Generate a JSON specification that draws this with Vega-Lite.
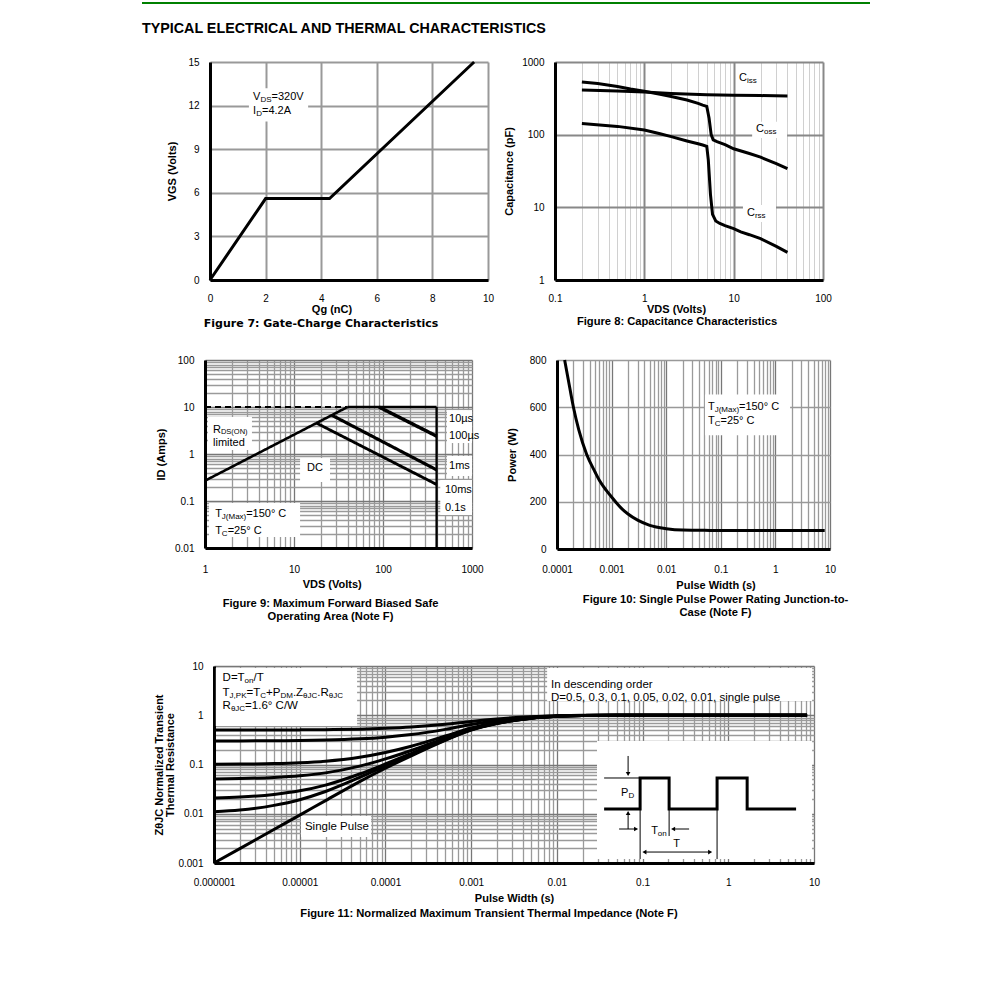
{
  "$schema": "https://vega.github.io/schema/vega-lite/v6.json",
  "padding": {"left": 142, "top": 0, "right": 5, "bottom": 5},
  "config": {
    "view": {"stroke": null},
    "font": "Liberation Sans",
    "axis": {
      "grid": true,
      "labelFont": "Liberation Sans", "labelFontSize": 10, "labelColor": "#000",
      "titleFont": "Liberation Sans", "titleFontSize": 11, "titleFontWeight": "bold", "titleColor": "#000",
      "ticks": false, "tickSize": 0,
      "domainColor": "#000", "domainWidth": 3,
      "gridColor": "#999", "gridWidth": 1.5, "gridOpacity": 1,
      "labelFlush": false, "labelOverlap": false
    },
    "axisX": {"labelPadding": 13, "titlePadding": 0},
    "axisY": {"labelPadding": 11, "titlePadding": 10},
    "title": {"font": "Liberation Sans", "fontSize": 11.2, "fontWeight": "bold", "color": "#000", "lineHeight": 13},
    "text": {"font": "Liberation Sans", "fontSize": 11, "color": "#000", "align": "left", "baseline": "middle"}
  },
  "datasets": {
    "gc": [
      {"qg": 0, "vgs": 0}, {"qg": 2, "vgs": 5.6}, {"qg": 4.3, "vgs": 5.6}, {"qg": 9.5, "vgs": 15}
    ],
    "cap": [
      {"c": "Ciss", "v": 0.2, "pf": 412}, {"c": "Ciss", "v": 0.5, "pf": 400}, {"c": "Ciss", "v": 1, "pf": 385}, {"c": "Ciss", "v": 2, "pf": 368}, {"c": "Ciss", "v": 5, "pf": 355}, {"c": "Ciss", "v": 10, "pf": 350}, {"c": "Ciss", "v": 20, "pf": 345}, {"c": "Ciss", "v": 40, "pf": 340},
      {"c": "Coss", "v": 0.2, "pf": 531}, {"c": "Coss", "v": 0.3, "pf": 505}, {"c": "Coss", "v": 0.5, "pf": 460}, {"c": "Coss", "v": 0.7, "pf": 425}, {"c": "Coss", "v": 1, "pf": 395}, {"c": "Coss", "v": 1.5, "pf": 360}, {"c": "Coss", "v": 2, "pf": 335}, {"c": "Coss", "v": 3, "pf": 300}, {"c": "Coss", "v": 4, "pf": 270}, {"c": "Coss", "v": 4.5, "pf": 255}, {"c": "Coss", "v": 5, "pf": 245}, {"c": "Coss", "v": 5.3, "pf": 170}, {"c": "Coss", "v": 5.6, "pf": 100}, {"c": "Coss", "v": 5.9, "pf": 85}, {"c": "Coss", "v": 6.5, "pf": 80}, {"c": "Coss", "v": 8, "pf": 73}, {"c": "Coss", "v": 10, "pf": 64}, {"c": "Coss", "v": 15, "pf": 55}, {"c": "Coss", "v": 20, "pf": 49}, {"c": "Coss", "v": 30, "pf": 40}, {"c": "Coss", "v": 40, "pf": 34},
      {"c": "Crss", "v": 0.2, "pf": 142}, {"c": "Crss", "v": 0.5, "pf": 130}, {"c": "Crss", "v": 1, "pf": 116}, {"c": "Crss", "v": 1.5, "pf": 103}, {"c": "Crss", "v": 2, "pf": 94}, {"c": "Crss", "v": 3, "pf": 82}, {"c": "Crss", "v": 4, "pf": 75}, {"c": "Crss", "v": 4.5, "pf": 72}, {"c": "Crss", "v": 5, "pf": 69}, {"c": "Crss", "v": 5.2, "pf": 45}, {"c": "Crss", "v": 5.5, "pf": 15}, {"c": "Crss", "v": 5.8, "pf": 8}, {"c": "Crss", "v": 6.3, "pf": 6.5}, {"c": "Crss", "v": 7, "pf": 6}, {"c": "Crss", "v": 8, "pf": 5.6}, {"c": "Crss", "v": 10, "pf": 5.1}, {"c": "Crss", "v": 12, "pf": 4.6}, {"c": "Crss", "v": 15, "pf": 4.2}, {"c": "Crss", "v": 20, "pf": 3.7}, {"c": "Crss", "v": 30, "pf": 2.9}, {"c": "Crss", "v": 40, "pf": 2.4}
    ],
    "soa": [
      {"s": "dash", "i": 0, "v": 1, "a": 10}, {"s": "dash", "i": 1, "v": 40, "a": 10},
      {"s": "limit", "i": 0, "v": 40, "a": 10}, {"s": "limit", "i": 1, "v": 400, "a": 10}, {"s": "limit", "i": 2, "v": 400, "a": 0.01},
      {"s": "rds", "i": 0, "v": 1, "a": 0.27}, {"s": "rds", "i": 1, "v": 40, "a": 10},
      {"s": "dc", "i": 0, "v": 17.7, "a": 4.6}, {"s": "dc", "i": 1, "v": 400, "a": 0.225},
      {"s": "1ms", "i": 0, "v": 26.6, "a": 6.7}, {"s": "1ms", "i": 1, "v": 400, "a": 0.46},
      {"s": "10us", "i": 0, "v": 90, "a": 10}, {"s": "10us", "i": 1, "v": 400, "a": 2.4}
    ],
    "pwr": [
      {"t": 0.000138, "p": 800}, {"t": 0.00016, "p": 720}, {"t": 0.0002, "p": 600}, {"t": 0.00025, "p": 505}, {"t": 0.00035, "p": 400}, {"t": 0.0005, "p": 325}, {"t": 0.0006, "p": 290}, {"t": 0.0008, "p": 248}, {"t": 0.001, "p": 220}, {"t": 0.0012, "p": 198}, {"t": 0.0015, "p": 173}, {"t": 0.002, "p": 148}, {"t": 0.003, "p": 122}, {"t": 0.005, "p": 100}, {"t": 0.01, "p": 86}, {"t": 0.02, "p": 80}, {"t": 0.05, "p": 79}, {"t": 0.1, "p": 78}, {"t": 1, "p": 78}, {"t": 8, "p": 78}
    ],
    "zth": [
      {"d": "0.5", "t": 1e-6, "z": 0.5005}, {"d": "0.5", "t": 2e-6, "z": 0.501}, {"d": "0.5", "t": 5e-6, "z": 0.5024}, {"d": "0.5", "t": 1e-5, "z": 0.5047}, {"d": "0.5", "t": 2e-5, "z": 0.5093}, {"d": "0.5", "t": 5e-5, "z": 0.5225}, {"d": "0.5", "t": 1e-4, "z": 0.542}, {"d": "0.5", "t": 2e-4, "z": 0.575}, {"d": "0.5", "t": 5e-4, "z": 0.655}, {"d": "0.5", "t": 1e-3, "z": 0.75}, {"d": "0.5", "t": 2e-3, "z": 0.84}, {"d": "0.5", "t": 5e-3, "z": 0.935}, {"d": "0.5", "t": 0.01, "z": 0.975}, {"d": "0.5", "t": 0.02, "z": 0.995}, {"d": "0.5", "t": 0.05, "z": 1}, {"d": "0.5", "t": 0.1, "z": 1}, {"d": "0.5", "t": 1, "z": 1}, {"d": "0.5", "t": 8.3, "z": 1},
      {"d": "0.3", "t": 1e-6, "z": 0.3007}, {"d": "0.3", "t": 2e-6, "z": 0.3014}, {"d": "0.3", "t": 5e-6, "z": 0.3034}, {"d": "0.3", "t": 1e-5, "z": 0.3066}, {"d": "0.3", "t": 2e-5, "z": 0.313}, {"d": "0.3", "t": 5e-5, "z": 0.3315}, {"d": "0.3", "t": 1e-4, "z": 0.3588}, {"d": "0.3", "t": 2e-4, "z": 0.405}, {"d": "0.3", "t": 5e-4, "z": 0.517}, {"d": "0.3", "t": 1e-3, "z": 0.65}, {"d": "0.3", "t": 2e-3, "z": 0.776}, {"d": "0.3", "t": 5e-3, "z": 0.909}, {"d": "0.3", "t": 0.01, "z": 0.965}, {"d": "0.3", "t": 0.02, "z": 0.993}, {"d": "0.3", "t": 0.05, "z": 1}, {"d": "0.3", "t": 0.1, "z": 1}, {"d": "0.3", "t": 1, "z": 1}, {"d": "0.3", "t": 8.3, "z": 1},
      {"d": "0.1", "t": 1e-6, "z": 0.1009}, {"d": "0.1", "t": 2e-6, "z": 0.1018}, {"d": "0.1", "t": 5e-6, "z": 0.1043}, {"d": "0.1", "t": 1e-5, "z": 0.1085}, {"d": "0.1", "t": 2e-5, "z": 0.1167}, {"d": "0.1", "t": 5e-5, "z": 0.1405}, {"d": "0.1", "t": 1e-4, "z": 0.1756}, {"d": "0.1", "t": 2e-4, "z": 0.235}, {"d": "0.1", "t": 5e-4, "z": 0.379}, {"d": "0.1", "t": 1e-3, "z": 0.55}, {"d": "0.1", "t": 2e-3, "z": 0.712}, {"d": "0.1", "t": 5e-3, "z": 0.883}, {"d": "0.1", "t": 0.01, "z": 0.955}, {"d": "0.1", "t": 0.02, "z": 0.991}, {"d": "0.1", "t": 0.05, "z": 1}, {"d": "0.1", "t": 0.1, "z": 1}, {"d": "0.1", "t": 1, "z": 1}, {"d": "0.1", "t": 8.3, "z": 1},
      {"d": "0.05", "t": 1e-6, "z": 0.051}, {"d": "0.05", "t": 2e-6, "z": 0.0519}, {"d": "0.05", "t": 5e-6, "z": 0.0546}, {"d": "0.05", "t": 1e-5, "z": 0.0589}, {"d": "0.05", "t": 2e-5, "z": 0.0676}, {"d": "0.05", "t": 5e-5, "z": 0.0928}, {"d": "0.05", "t": 1e-4, "z": 0.1298}, {"d": "0.05", "t": 2e-4, "z": 0.1925}, {"d": "0.05", "t": 5e-4, "z": 0.3445}, {"d": "0.05", "t": 1e-3, "z": 0.525}, {"d": "0.05", "t": 2e-3, "z": 0.696}, {"d": "0.05", "t": 5e-3, "z": 0.8765}, {"d": "0.05", "t": 0.01, "z": 0.9525}, {"d": "0.05", "t": 0.02, "z": 0.9905}, {"d": "0.05", "t": 0.05, "z": 1}, {"d": "0.05", "t": 0.1, "z": 1}, {"d": "0.05", "t": 1, "z": 1}, {"d": "0.05", "t": 8.3, "z": 1},
      {"d": "0.02", "t": 1e-6, "z": 0.021}, {"d": "0.02", "t": 2e-6, "z": 0.0219}, {"d": "0.02", "t": 5e-6, "z": 0.0247}, {"d": "0.02", "t": 1e-5, "z": 0.0292}, {"d": "0.02", "t": 2e-5, "z": 0.0381}, {"d": "0.02", "t": 5e-5, "z": 0.0641}, {"d": "0.02", "t": 1e-4, "z": 0.1023}, {"d": "0.02", "t": 2e-4, "z": 0.167}, {"d": "0.02", "t": 5e-4, "z": 0.3238}, {"d": "0.02", "t": 1e-3, "z": 0.51}, {"d": "0.02", "t": 2e-3, "z": 0.6864}, {"d": "0.02", "t": 5e-3, "z": 0.8726}, {"d": "0.02", "t": 0.01, "z": 0.951}, {"d": "0.02", "t": 0.02, "z": 0.9902}, {"d": "0.02", "t": 0.05, "z": 1}, {"d": "0.02", "t": 0.1, "z": 1}, {"d": "0.02", "t": 1, "z": 1}, {"d": "0.02", "t": 8.3, "z": 1},
      {"d": "0.01", "t": 1e-6, "z": 0.011}, {"d": "0.01", "t": 2e-6, "z": 0.0119}, {"d": "0.01", "t": 5e-6, "z": 0.0148}, {"d": "0.01", "t": 1e-5, "z": 0.0193}, {"d": "0.01", "t": 2e-5, "z": 0.0283}, {"d": "0.01", "t": 5e-5, "z": 0.0546}, {"d": "0.01", "t": 1e-4, "z": 0.0932}, {"d": "0.01", "t": 2e-4, "z": 0.1585}, {"d": "0.01", "t": 5e-4, "z": 0.3169}, {"d": "0.01", "t": 1e-3, "z": 0.505}, {"d": "0.01", "t": 2e-3, "z": 0.6832}, {"d": "0.01", "t": 5e-3, "z": 0.8713}, {"d": "0.01", "t": 0.01, "z": 0.9505}, {"d": "0.01", "t": 0.02, "z": 0.9901}, {"d": "0.01", "t": 0.05, "z": 1}, {"d": "0.01", "t": 0.1, "z": 1}, {"d": "0.01", "t": 1, "z": 1}, {"d": "0.01", "t": 8.3, "z": 1},
      {"d": "single", "t": 1e-6, "z": 0.001}, {"d": "single", "t": 2e-6, "z": 0.00196}, {"d": "single", "t": 5e-6, "z": 0.0048}, {"d": "single", "t": 1e-5, "z": 0.0094}, {"d": "single", "t": 2e-5, "z": 0.0185}, {"d": "single", "t": 5e-5, "z": 0.045}, {"d": "single", "t": 1e-4, "z": 0.084}, {"d": "single", "t": 2e-4, "z": 0.15}, {"d": "single", "t": 5e-4, "z": 0.31}, {"d": "single", "t": 1e-3, "z": 0.5}, {"d": "single", "t": 2e-3, "z": 0.68}, {"d": "single", "t": 5e-3, "z": 0.87}, {"d": "single", "t": 0.01, "z": 0.95}, {"d": "single", "t": 0.02, "z": 0.99}, {"d": "single", "t": 0.05, "z": 1}, {"d": "single", "t": 0.1, "z": 1}, {"d": "single", "t": 1, "z": 1}, {"d": "single", "t": 8.3, "z": 1}
    ],
    "pulse": [
      {"i": 0, "t": 0.0356, "z": 0.01248}, {"i": 1, "t": 0.0936, "z": 0.01248}, {"i": 2, "t": 0.0936, "z": 0.0532}, {"i": 3, "t": 0.204, "z": 0.0532}, {"i": 4, "t": 0.204, "z": 0.01248}, {"i": 5, "t": 0.74, "z": 0.01248}, {"i": 6, "t": 0.74, "z": 0.0532}, {"i": 7, "t": 1.66, "z": 0.0532}, {"i": 8, "t": 1.66, "z": 0.01248}, {"i": 9, "t": 6.18, "z": 0.01248}
    ],
    "insetLines": [
      {"x1": 0.0356, "x2": 0.0936, "y1": 0.0532, "y2": 0.0532},
      {"x1": 0.0678, "x2": 0.0678, "y1": 0.149, "y2": 0.0641},
      {"x1": 0.0678, "x2": 0.0678, "y1": 0.0049, "y2": 0.01035},
      {"x1": 0.0936, "x2": 0.0936, "y1": 0.01248, "y2": 0.0012},
      {"x1": 0.204, "x2": 0.204, "y1": 0.01248, "y2": 0.00353},
      {"x1": 0.74, "x2": 0.74, "y1": 0.01248, "y2": 0.0012},
      {"x1": 0.0532, "x2": 0.084, "y1": 0.0049, "y2": 0.0049},
      {"x1": 0.349, "x2": 0.227, "y1": 0.0049, "y2": 0.0049},
      {"x1": 0.105, "x2": 0.614, "y1": 0.00167, "y2": 0.00167}
    ],
    "arrows": [
      {"x": 0.0678, "y": 0.0641, "dir": "down"},
      {"x": 0.0678, "y": 0.01035, "dir": "up"},
      {"x": 0.084, "y": 0.0049, "dir": "right"},
      {"x": 0.227, "y": 0.0049, "dir": "left"},
      {"x": 0.105, "y": 0.00167, "dir": "left"},
      {"x": 0.614, "y": 0.00167, "dir": "right"}
    ]
  },
  "spacing": 19,
  "vconcat": [
    {
      "width": 728, "height": 2,
      "view": {"fill": "#008000", "stroke": null},
      "title": {"text": "TYPICAL ELECTRICAL AND THERMAL CHARACTERISTICS", "orient": "bottom", "anchor": "start", "font": "Liberation Sans", "fontSize": 14.3, "fontWeight": "bold", "color": "#000", "offset": 16},
      "data": {"values": [{}]},
      "mark": {"type": "point", "opacity": 0}
    },
    {
      "spacing": 38,
      "vconcat": [
        {
          "spacing": 25,
          "vconcat": [
            {
              "spacing": 0,
              "hconcat": [
                {"width": 13, "height": 1, "data": {"values": [{}]}, "mark": {"type": "point", "opacity": 0}},
                {
                  "spacing": 9,
                  "hconcat": [
                    {
                      "width": 278, "height": 218,
                      "title": {"text": "Figure 7: Gate-Charge Characteristics", "orient": "bottom", "offset": 4, "dx": -28, "font": "DejaVu Sans", "fontSize": 11},
                      "layer": [
                        {"data": {"values": [{}]}, "mark": {"type": "rect", "color": "white"},
                         "encoding": {"x": {"datum": 1.4}, "x2": {"datum": 3.53}, "y": {"datum": 13.2}, "y2": {"datum": 10.9}}},
                        {"data": {"name": "gc"}, "mark": {"type": "line", "color": "black", "strokeWidth": 3},
                         "encoding": {
                           "x": {"field": "qg", "type": "quantitative", "scale": {"domain": [0, 10], "nice": false},
                                 "axis": {"grid": true, "title": "Qg (nC)", "values": [0, 2, 4, 6, 8, 10], "gridColor": "#999", "gridWidth": 2, "titleX": 121.5}},
                           "y": {"field": "vgs", "type": "quantitative", "scale": {"domain": [0, 15], "nice": false},
                                 "axis": {"grid": true, "title": ["", "VGS (Volts)"], "titleLineHeight": 11, "values": [0, 3, 6, 9, 12, 15], "gridColor": "#999", "gridWidth": 2}}
                         }},
                        {"data": {"values": [{}]}, "mark": {"type": "text"}, "encoding": {"x": {"datum": 1.55}, "y": {"datum": 12.59}, "text": {"value": "V"}}},
                        {"data": {"values": [{}]}, "mark": {"type": "text", "fontSize": 8, "dx": 7.3, "dy": 3}, "encoding": {"x": {"datum": 1.55}, "y": {"datum": 12.59}, "text": {"value": "DS"}}},
                        {"data": {"values": [{}]}, "mark": {"type": "text", "dx": 18.4}, "encoding": {"x": {"datum": 1.55}, "y": {"datum": 12.59}, "text": {"value": "=320V"}}},
                        {"data": {"values": [{}]}, "mark": {"type": "text"}, "encoding": {"x": {"datum": 1.55}, "y": {"datum": 11.63}, "text": {"value": "I"}}},
                        {"data": {"values": [{}]}, "mark": {"type": "text", "fontSize": 8, "dx": 3.1, "dy": 3}, "encoding": {"x": {"datum": 1.55}, "y": {"datum": 11.63}, "text": {"value": "D"}}},
                        {"data": {"values": [{}]}, "mark": {"type": "text", "dx": 8.9}, "encoding": {"x": {"datum": 1.55}, "y": {"datum": 11.63}, "text": {"value": "=4.2A"}}}
                      ]
                    },
                    {
                      "width": 268, "height": 218,
                      "title": {"text": "Figure 8: Capacitance Characteristics", "orient": "bottom", "offset": 2, "dx": -12},
                      "layer": [
                        {"data": {"values": [{}]}, "mark": {"type": "rect", "color": "white"},
                         "encoding": {"x": {"datum": 16.1}, "x2": {"datum": 39.6}, "y": {"datum": 90}, "y2": {"datum": 150}}},
                        {"data": {"values": [{}]}, "mark": {"type": "rect", "color": "white"},
                         "encoding": {"x": {"datum": 12.7}, "x2": {"datum": 29.8}, "y": {"datum": 6.3}, "y2": {"datum": 10.8}}},
                        {"data": {"name": "cap"}, "mark": {"type": "line", "color": "black", "strokeWidth": 3},
                         "encoding": {
                           "x": {"field": "v", "type": "quantitative", "scale": {"type": "log", "domain": [0.1, 100], "nice": false},
                                 "axis": {"grid": true, "title": "VDS (Volts)", "titleX": 121,
                                          "values": [0.1, 0.2, 0.3, 0.4, 0.5, 0.6, 0.7, 0.8, 0.9, 1, 2, 3, 4, 5, 6, 7, 8, 9, 10, 20, 30, 40, 50, 60, 70, 80, 90, 100],
                                          "labelExpr": "abs(log(datum.value)/LN10 - round(log(datum.value)/LN10)) < 0.001 ? format(datum.value, '~f') : ''",
                                          "gridColor": {"condition": {"test": "abs(log(datum.value)/LN10 - round(log(datum.value)/LN10)) < 0.001", "value": "#888"}, "value": "#d0d0d0"},
                                          "gridWidth": {"condition": {"test": "abs(log(datum.value)/LN10 - round(log(datum.value)/LN10)) < 0.001", "value": 2}, "value": 1}}},
                           "y": {"field": "pf", "type": "quantitative", "scale": {"type": "log", "domain": [1, 1000], "nice": false},
                                 "axis": {"grid": true, "title": "Capacitance (pF)", "titlePadding": 7, "values": [1, 10, 100, 1000], "format": "~f", "gridColor": "#888", "gridWidth": 2}},
                           "detail": {"field": "c"}
                         }},
                        {"data": {"values": [{}]}, "mark": {"type": "text"}, "encoding": {"x": {"datum": 11.5}, "y": {"datum": 603}, "text": {"value": "C"}}},
                        {"data": {"values": [{}]}, "mark": {"type": "text", "fontSize": 8, "dx": 7.9, "dy": 3}, "encoding": {"x": {"datum": 11.5}, "y": {"datum": 603}, "text": {"value": "iss"}}},
                        {"data": {"values": [{}]}, "mark": {"type": "text"}, "encoding": {"x": {"datum": 17.8}, "y": {"datum": 118}, "text": {"value": "C"}}},
                        {"data": {"values": [{}]}, "mark": {"type": "text", "fontSize": 8, "dx": 7.9, "dy": 3}, "encoding": {"x": {"datum": 17.8}, "y": {"datum": 118}, "text": {"value": "oss"}}},
                        {"data": {"values": [{}]}, "mark": {"type": "text"}, "encoding": {"x": {"datum": 14.1}, "y": {"datum": 8.4}, "text": {"value": "C"}}},
                        {"data": {"values": [{}]}, "mark": {"type": "text", "fontSize": 8, "dx": 7.9, "dy": 3}, "encoding": {"x": {"datum": 14.1}, "y": {"datum": 8.4}, "text": {"value": "rss"}}}
                      ]
                    }
                  ]
                }
              ]
            },
            {
              "spacing": 0,
              "hconcat": [
                {"width": 13, "height": 1, "data": {"values": [{}]}, "mark": {"type": "point", "opacity": 0}},
                {
                  "spacing": 22,
                  "hconcat": [
                    {
                      "width": 267, "height": 188,
                      "title": {"text": ["Figure 9: Maximum Forward Biased Safe", "Operating Area  (Note F)"], "orient": "bottom", "offset": 9, "dx": -8},
                      "layer": [
                        {"data": {"values": [{}]}, "mark": {"type": "rect", "color": "white"},
                         "encoding": {"x": {"datum": 1.08}, "x2": {"datum": 3.37}, "y": {"datum": 1.22}, "y2": {"datum": 6.1}}},
                        {"data": {"values": [{}]}, "mark": {"type": "rect", "color": "white"},
                         "encoding": {"x": {"datum": 11.7}, "x2": {"datum": 25.4}, "y": {"datum": 0.254}, "y2": {"datum": 0.82}}},
                        {"data": {"values": [{}]}, "mark": {"type": "rect", "color": "white"},
                         "encoding": {"x": {"datum": 524}, "x2": {"datum": 1000}, "y": {"datum": 1.71}, "y2": {"datum": 8.6}}},
                        {"data": {"values": [{}]}, "mark": {"type": "rect", "color": "white"},
                         "encoding": {"x": {"datum": 524}, "x2": {"datum": 1000}, "y": {"datum": 0.34}, "y2": {"datum": 0.906}}},
                        {"data": {"values": [{}]}, "mark": {"type": "rect", "color": "white"},
                         "encoding": {"x": {"datum": 440}, "x2": {"datum": 1000}, "y": {"datum": 0.0504}, "y2": {"datum": 0.28}}},
                        {"data": {"values": [{}]}, "mark": {"type": "rect", "color": "white"},
                         "encoding": {"x": {"datum": 1.11}, "x2": {"datum": 11.7}, "y": {"datum": 0.0171}, "y2": {"datum": 0.0906}}},
                        {"data": {"name": "soa"}, "mark": {"type": "line", "color": "black"},
                         "encoding": {
                           "x": {"field": "v", "type": "quantitative", "scale": {"type": "log", "domain": [1, 1000], "nice": false},
                                 "axis": {"grid": true, "title": "VDS (Volts)", "titleX": 126.7, "titlePadding": 4, "labelPadding": 16,
                                          "values": [1, 2, 3, 4, 5, 6, 7, 8, 9, 10, 20, 30, 40, 50, 60, 70, 80, 90, 100, 200, 300, 400, 500, 600, 700, 800, 900, 1000],
                                          "labelExpr": "abs(log(datum.value)/LN10 - round(log(datum.value)/LN10)) < 0.001 ? format(datum.value, '~f') : ''",
                                          "gridColor": {"condition": {"test": "abs(log(datum.value)/LN10 - round(log(datum.value)/LN10)) < 0.001", "value": "#777"}, "value": "#9a9a9a"},
                                          "gridWidth": 1.3}},
                           "y": {"field": "a", "type": "quantitative", "scale": {"type": "log", "domain": [0.01, 100], "nice": false},
                                 "axis": {"grid": true, "title": "ID (Amps)", "titlePadding": 8,
                                          "values": [0.01, 0.02, 0.03, 0.04, 0.05, 0.06, 0.07, 0.08, 0.09, 0.1, 0.2, 0.3, 0.4, 0.5, 0.6, 0.7, 0.8, 0.9, 1, 2, 3, 4, 5, 6, 7, 8, 9, 10, 20, 30, 40, 50, 60, 70, 80, 90, 100],
                                          "labelExpr": "abs(log(datum.value)/LN10 - round(log(datum.value)/LN10)) < 0.001 ? format(datum.value, '~f') : ''",
                                          "gridColor": {"condition": {"test": "abs(log(datum.value)/LN10 - round(log(datum.value)/LN10)) < 0.001", "value": "#777"}, "value": "#9a9a9a"},
                                          "gridWidth": 1.3}},
                           "detail": {"field": "s"},
                           "order": {"field": "i"},
                           "size": {"field": "s", "type": "nominal", "legend": null,
                                    "scale": {"domain": ["dash", "limit", "rds", "dc", "1ms", "10us"], "range": [2, 3.5, 3.5, 5, 3, 3]}},
                           "strokeDash": {"field": "s", "type": "nominal", "legend": null,
                                          "scale": {"domain": ["dash", "limit", "rds", "dc", "1ms", "10us"], "range": [[6, 4], [1, 0], [1, 0], [1, 0], [1, 0], [1, 0]]}}
                         }},
                        {"data": {"values": [{}]}, "mark": {"type": "text"}, "encoding": {"x": {"datum": 1.23}, "y": {"datum": 3.3}, "text": {"value": "R"}}},
                        {"data": {"values": [{}]}, "mark": {"type": "text", "fontSize": 7.5, "dx": 7.9, "dy": 2.5}, "encoding": {"x": {"datum": 1.23}, "y": {"datum": 3.3}, "text": {"value": "DS(ON)"}}},
                        {"data": {"values": [{}]}, "mark": {"type": "text"}, "encoding": {"x": {"datum": 1.23}, "y": {"datum": 1.71}, "text": {"value": "limited"}}},
                        {"data": {"values": [{}]}, "mark": {"type": "text"}, "encoding": {"x": {"datum": 14}, "y": {"datum": 0.504}, "text": {"value": "DC"}}},
                        {"data": {"values": [{}]}, "mark": {"type": "text"}, "encoding": {"x": {"datum": 552}, "y": {"datum": 5.56}, "text": {"value": "10µs"}}},
                        {"data": {"values": [{}]}, "mark": {"type": "text"}, "encoding": {"x": {"datum": 552}, "y": {"datum": 2.42}, "text": {"value": "100µs"}}},
                        {"data": {"values": [{}]}, "mark": {"type": "text"}, "encoding": {"x": {"datum": 552}, "y": {"datum": 0.556}, "text": {"value": "1ms"}}},
                        {"data": {"values": [{}]}, "mark": {"type": "text"}, "encoding": {"x": {"datum": 497}, "y": {"datum": 0.171}, "text": {"value": "10ms"}}},
                        {"data": {"values": [{}]}, "mark": {"type": "text"}, "encoding": {"x": {"datum": 497}, "y": {"datum": 0.071}, "text": {"value": "0.1s"}}},
                        {"data": {"values": [{}]}, "mark": {"type": "text"}, "encoding": {"x": {"datum": 1.3}, "y": {"datum": 0.0529}, "text": {"value": "T"}}},
                        {"data": {"values": [{}]}, "mark": {"type": "text", "fontSize": 8, "dx": 6.7, "dy": 3}, "encoding": {"x": {"datum": 1.3}, "y": {"datum": 0.0529}, "text": {"value": "J(Max)"}}},
                        {"data": {"values": [{}]}, "mark": {"type": "text", "dx": 31}, "encoding": {"x": {"datum": 1.3}, "y": {"datum": 0.0529}, "text": {"value": "=150° C"}}},
                        {"data": {"values": [{}]}, "mark": {"type": "text"}, "encoding": {"x": {"datum": 1.3}, "y": {"datum": 0.023}, "text": {"value": "T"}}},
                        {"data": {"values": [{}]}, "mark": {"type": "text", "fontSize": 8, "dx": 6.7, "dy": 3}, "encoding": {"x": {"datum": 1.3}, "y": {"datum": 0.023}, "text": {"value": "C"}}},
                        {"data": {"values": [{}]}, "mark": {"type": "text", "dx": 12.5}, "encoding": {"x": {"datum": 1.3}, "y": {"datum": 0.023}, "text": {"value": "=25° C"}}}
                      ]
                    },
                    {
                      "width": 273, "height": 189,
                      "title": {"text": ["Figure 10: Single Pulse Power Rating Junction-to-", "Case (Note F)"], "orient": "bottom", "offset": 4, "dx": 22},
                      "layer": [
                        {"data": {"values": [{}]}, "mark": {"type": "rect", "color": "white"},
                         "encoding": {"x": {"datum": 0.0513}, "x2": {"datum": 1.86}, "y": {"datum": 482}, "y2": {"datum": 654}}},
                        {"data": {"name": "pwr"}, "mark": {"type": "line", "color": "black", "strokeWidth": 3, "interpolate": "monotone"},
                         "encoding": {
                           "x": {"field": "t", "type": "quantitative", "scale": {"type": "log", "domain": [0.0001, 10], "nice": false},
                                 "axis": {"grid": true, "title": "Pulse Width (s)", "titleX": 158.5, "titlePadding": 5, "labelPadding": 15,
                                          "values": [0.0001, 0.0002, 0.0003, 0.0004, 0.0005, 0.0006, 0.0007, 0.0008, 0.0009, 0.001, 0.002, 0.003, 0.004, 0.005, 0.006, 0.007, 0.008, 0.009, 0.01, 0.02, 0.03, 0.04, 0.05, 0.06, 0.07, 0.08, 0.09, 0.1, 0.2, 0.3, 0.4, 0.5, 0.6, 0.7, 0.8, 0.9, 1, 2, 3, 4, 5, 6, 7, 8, 9, 10],
                                          "labelExpr": "abs(log(datum.value)/LN10 - round(log(datum.value)/LN10)) < 0.001 ? format(datum.value, '~f') : ''",
                                          "gridColor": {"condition": {"test": "abs(log(datum.value)/LN10 - round(log(datum.value)/LN10)) < 0.001", "value": "#777"}, "value": "#9a9a9a"},
                                          "gridWidth": 1.3}},
                           "y": {"field": "p", "type": "quantitative", "scale": {"domain": [0, 800], "nice": false},
                                 "axis": {"grid": true, "title": "Power (W)", "titlePadding": 12, "values": [0, 200, 400, 600, 800], "gridColor": "#999", "gridWidth": 1.5}}
                         }},
                        {"data": {"values": [{}]}, "mark": {"type": "text"}, "encoding": {"x": {"datum": 0.0582}, "y": {"datum": 602}, "text": {"value": "T"}}},
                        {"data": {"values": [{}]}, "mark": {"type": "text", "fontSize": 8, "dx": 6.7, "dy": 3}, "encoding": {"x": {"datum": 0.0582}, "y": {"datum": 602}, "text": {"value": "J(Max)"}}},
                        {"data": {"values": [{}]}, "mark": {"type": "text", "dx": 31}, "encoding": {"x": {"datum": 0.0582}, "y": {"datum": 602}, "text": {"value": "=150° C"}}},
                        {"data": {"values": [{}]}, "mark": {"type": "text"}, "encoding": {"x": {"datum": 0.0582}, "y": {"datum": 542}, "text": {"value": "T"}}},
                        {"data": {"values": [{}]}, "mark": {"type": "text", "fontSize": 8, "dx": 6.7, "dy": 3}, "encoding": {"x": {"datum": 0.0582}, "y": {"datum": 542}, "text": {"value": "C"}}},
                        {"data": {"values": [{}]}, "mark": {"type": "text", "dx": 12.5}, "encoding": {"x": {"datum": 0.0582}, "y": {"datum": 542}, "text": {"value": "=25° C"}}}
                      ]
                    }
                  ]
                }
              ]
            }
          ]
        },
        {
          "spacing": 0,
          "hconcat": [
            {"width": 11, "height": 1, "data": {"values": [{}]}, "mark": {"type": "point", "opacity": 0}},
            {
              "width": 600, "height": 197,
              "title": {"text": "Figure 11: Normalized Maximum Transient Thermal Impedance (Note F)", "orient": "bottom", "offset": 5, "dx": -25},
              "layer": [
                {"data": {"values": [{}]}, "mark": {"type": "rect", "color": "white"},
                 "encoding": {"x": {"datum": 1.05e-6}, "x2": {"datum": 4.67e-5}, "y": {"datum": 0.605}, "y2": {"datum": 9.1}}},
                {"data": {"values": [{}]}, "mark": {"type": "rect", "color": "white"},
                 "encoding": {"x": {"datum": 7.7e-3}, "x2": {"datum": 9.5}, "y": {"datum": 1.95}, "y2": {"datum": 9.1}}},
                {"data": {"values": [{}]}, "mark": {"type": "rect", "color": "white"},
                 "encoding": {"x": {"datum": 1.035e-5}, "x2": {"datum": 6.8e-5}, "y": {"datum": 0.00337}, "y2": {"datum": 0.009}}},
                {"data": {"values": [{}]}, "mark": {"type": "rect", "color": "white"},
                 "encoding": {"x": {"datum": 0.0294}, "x2": {"datum": 9.5}, "y": {"datum": 0.0012}, "y2": {"datum": 0.3}}},
                {"data": {"name": "zth"}, "mark": {"type": "line", "color": "black", "strokeWidth": 3, "interpolate": "monotone"},
                 "encoding": {
                   "x": {"field": "t", "type": "quantitative", "scale": {"type": "log", "domain": [1e-6, 10], "nice": false},
                         "axis": {"grid": true, "title": "Pulse Width (s)", "titlePadding": 5, "labelPadding": 14,
                                  "values": [1e-6, 2e-6, 3e-6, 4e-6, 5e-6, 6e-6, 7e-6, 8e-6, 9e-6, 1e-5, 2e-5, 3e-5, 4e-5, 5e-5, 6e-5, 7e-5, 8e-5, 9e-5, 1e-4, 2e-4, 3e-4, 4e-4, 5e-4, 6e-4, 7e-4, 8e-4, 9e-4, 0.001, 0.002, 0.003, 0.004, 0.005, 0.006, 0.007, 0.008, 0.009, 0.01, 0.02, 0.03, 0.04, 0.05, 0.06, 0.07, 0.08, 0.09, 0.1, 0.2, 0.3, 0.4, 0.5, 0.6, 0.7, 0.8, 0.9, 1, 2, 3, 4, 5, 6, 7, 8, 9, 10],
                                  "labelExpr": "abs(log(datum.value)/LN10 - round(log(datum.value)/LN10)) < 0.001 ? format(datum.value, '~f') : ''",
                                  "gridColor": {"condition": {"test": "abs(log(datum.value)/LN10 - round(log(datum.value)/LN10)) < 0.001", "value": "#777"}, "value": "#9a9a9a"},
                                  "gridWidth": 1.3}},
                   "y": {"field": "z", "type": "quantitative", "scale": {"type": "log", "domain": [0.001, 10], "nice": false},
                         "axis": {"grid": true, "title": ["ZθJC Normalized Transient", "Thermal Resistance"], "titleLineHeight": 11, "titlePadding": 2,
                                  "values": [0.001, 0.002, 0.003, 0.004, 0.005, 0.006, 0.007, 0.008, 0.009, 0.01, 0.02, 0.03, 0.04, 0.05, 0.06, 0.07, 0.08, 0.09, 0.1, 0.2, 0.3, 0.4, 0.5, 0.6, 0.7, 0.8, 0.9, 1, 2, 3, 4, 5, 6, 7, 8, 9, 10],
                                  "labelExpr": "abs(log(datum.value)/LN10 - round(log(datum.value)/LN10)) < 0.001 ? format(datum.value, '~f') : ''",
                                  "gridColor": {"condition": {"test": "abs(log(datum.value)/LN10 - round(log(datum.value)/LN10)) < 0.001", "value": "#777"}, "value": "#9a9a9a"},
                                  "gridWidth": 1.3}},
                   "detail": {"field": "d"}
                 }},
                {"data": {"name": "pulse"}, "mark": {"type": "line", "color": "black", "strokeWidth": 3},
                 "encoding": {"x": {"field": "t", "type": "quantitative"}, "y": {"field": "z", "type": "quantitative"}, "order": {"field": "i"}}},
                {"data": {"name": "insetLines"}, "mark": {"type": "rule", "color": "black", "strokeWidth": 1},
                 "encoding": {"x": {"field": "x1", "type": "quantitative"}, "x2": {"field": "x2"}, "y": {"field": "y1", "type": "quantitative"}, "y2": {"field": "y2"}}},
                {"data": {"name": "arrows"}, "mark": {"type": "point", "filled": true, "color": "black", "opacity": 1, "size": 22},
                 "encoding": {"x": {"field": "x", "type": "quantitative"}, "y": {"field": "y", "type": "quantitative"},
                              "shape": {"field": "dir", "type": "nominal", "legend": null, "scale": {"domain": ["down", "up", "right", "left"], "range": ["triangle-down", "triangle-up", "triangle-right", "triangle-left"]}}}},
                {"data": {"values": [{}]}, "mark": {"type": "text", "fontSize": 11.5}, "encoding": {"x": {"datum": 1.26e-6}, "y": {"datum": 5.79}, "text": {"value": "D=T"}}},
                {"data": {"values": [{}]}, "mark": {"type": "text", "fontSize": 8, "dx": 22, "dy": 3}, "encoding": {"x": {"datum": 1.26e-6}, "y": {"datum": 5.79}, "text": {"value": "on"}}},
                {"data": {"values": [{}]}, "mark": {"type": "text", "fontSize": 11.5, "dx": 30.9}, "encoding": {"x": {"datum": 1.26e-6}, "y": {"datum": 5.79}, "text": {"value": "/T"}}},
                {"data": {"values": [{}]}, "mark": {"type": "text", "fontSize": 11.5}, "encoding": {"x": {"datum": 1.26e-6}, "y": {"datum": 2.87}, "text": {"value": "T"}}},
                {"data": {"values": [{}]}, "mark": {"type": "text", "fontSize": 8, "dx": 7, "dy": 3}, "encoding": {"x": {"datum": 1.26e-6}, "y": {"datum": 2.87}, "text": {"value": "J,PK"}}},
                {"data": {"values": [{}]}, "mark": {"type": "text", "fontSize": 11.5, "dx": 23.9}, "encoding": {"x": {"datum": 1.26e-6}, "y": {"datum": 2.87}, "text": {"value": "=T"}}},
                {"data": {"values": [{}]}, "mark": {"type": "text", "fontSize": 8, "dx": 37.7, "dy": 3}, "encoding": {"x": {"datum": 1.26e-6}, "y": {"datum": 2.87}, "text": {"value": "C"}}},
                {"data": {"values": [{}]}, "mark": {"type": "text", "fontSize": 11.5, "dx": 43.4}, "encoding": {"x": {"datum": 1.26e-6}, "y": {"datum": 2.87}, "text": {"value": "+P"}}},
                {"data": {"values": [{}]}, "mark": {"type": "text", "fontSize": 8, "dx": 57.8, "dy": 3}, "encoding": {"x": {"datum": 1.26e-6}, "y": {"datum": 2.87}, "text": {"value": "DM"}}},
                {"data": {"values": [{}]}, "mark": {"type": "text", "fontSize": 11.5, "dx": 70.3}, "encoding": {"x": {"datum": 1.26e-6}, "y": {"datum": 2.87}, "text": {"value": ".Z"}}},
                {"data": {"values": [{}]}, "mark": {"type": "text", "fontSize": 8, "dx": 80.5, "dy": 3}, "encoding": {"x": {"datum": 1.26e-6}, "y": {"datum": 2.87}, "text": {"value": "θJC"}}},
                {"data": {"values": [{}]}, "mark": {"type": "text", "fontSize": 11.5, "dx": 94.7}, "encoding": {"x": {"datum": 1.26e-6}, "y": {"datum": 2.87}, "text": {"value": ".R"}}},
                {"data": {"values": [{}]}, "mark": {"type": "text", "fontSize": 8, "dx": 106.2, "dy": 3}, "encoding": {"x": {"datum": 1.26e-6}, "y": {"datum": 2.87}, "text": {"value": "θJC"}}},
                {"data": {"values": [{}]}, "mark": {"type": "text", "fontSize": 11.5}, "encoding": {"x": {"datum": 1.26e-6}, "y": {"datum": 1.54}, "text": {"value": "R"}}},
                {"data": {"values": [{}]}, "mark": {"type": "text", "fontSize": 8, "dx": 8.3, "dy": 3}, "encoding": {"x": {"datum": 1.26e-6}, "y": {"datum": 1.54}, "text": {"value": "θJC"}}},
                {"data": {"values": [{}]}, "mark": {"type": "text", "fontSize": 11.5, "dx": 22.5}, "encoding": {"x": {"datum": 1.26e-6}, "y": {"datum": 1.54}, "text": {"value": "=1.6°  C/W"}}},
                {"data": {"values": [{}]}, "mark": {"type": "text", "lineHeight": 13, "fontSize": 11.5},
                 "encoding": {"x": {"datum": 8.55e-3}, "y": {"datum": 4.02}, "text": {"value": ["In descending order", "D=0.5, 0.3, 0.1, 0.05, 0.02, 0.01, single pulse"]}}},
                {"data": {"values": [{}]}, "mark": {"type": "text", "fontSize": 11.5},
                 "encoding": {"x": {"datum": 1.15e-5}, "y": {"datum": 0.00538}, "text": {"value": "Single Pulse"}}},
                {"data": {"values": [{}]}, "mark": {"type": "text", "fontSize": 11}, "encoding": {"x": {"datum": 0.056}, "y": {"datum": 0.0264}, "text": {"value": "P"}}},
                {"data": {"values": [{}]}, "mark": {"type": "text", "fontSize": 8, "dx": 7.4, "dy": 3}, "encoding": {"x": {"datum": 0.056}, "y": {"datum": 0.0264}, "text": {"value": "D"}}},
                {"data": {"values": [{}]}, "mark": {"type": "text", "fontSize": 11}, "encoding": {"x": {"datum": 0.126}, "y": {"datum": 0.00447}, "text": {"value": "T"}}},
                {"data": {"values": [{}]}, "mark": {"type": "text", "fontSize": 8, "dx": 6.7, "dy": 3}, "encoding": {"x": {"datum": 0.126}, "y": {"datum": 0.00447}, "text": {"value": "on"}}},
                {"data": {"values": [{}]}, "mark": {"type": "text", "fontSize": 11, "align": "center"},
                 "encoding": {"x": {"datum": 0.25}, "y": {"datum": 0.00243}, "text": {"value": "T"}}}
              ]
            }
          ]
        }
      ]
    }
  ]
}
